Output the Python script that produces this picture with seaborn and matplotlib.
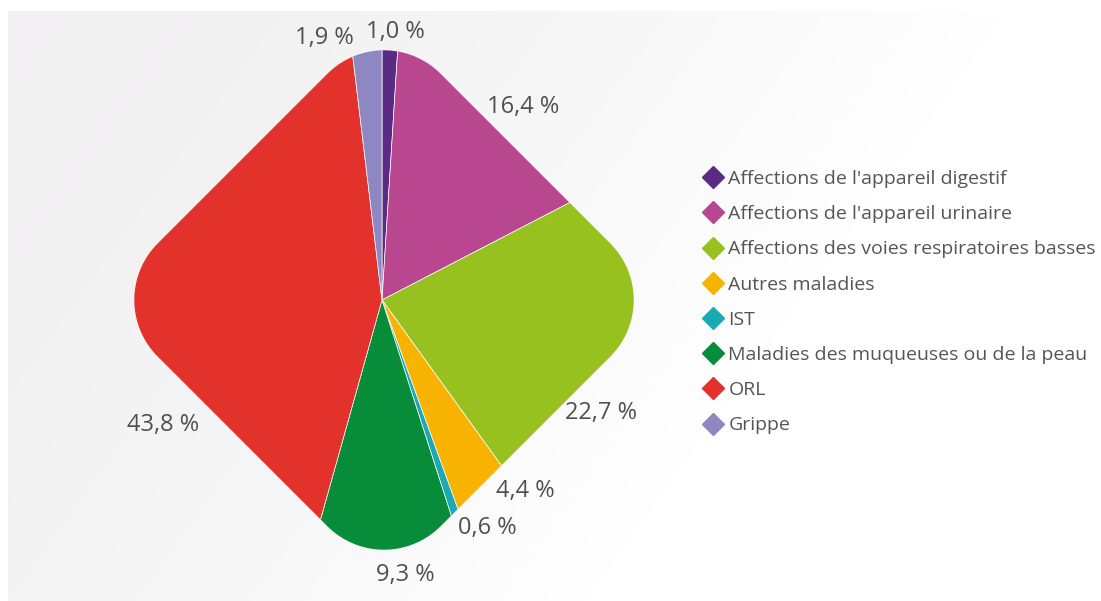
import numpy as np
import matplotlib
matplotlib.use("Agg")
import matplotlib.pyplot as plt
import seaborn as sns
from matplotlib.path import Path
from matplotlib.patches import PathPatch
from matplotlib.lines import Line2D

# ---------------- data ----------------
categories = [
    "Affections de l'appareil digestif",
    "Affections de l'appareil urinaire",
    "Affections des voies respiratoires basses",
    "Autres maladies",
    "IST",
    "Maladies des muqueuses ou de la peau",
    "ORL",
    "Grippe",
]
values = [1.0, 16.4, 22.7, 4.4, 0.6, 9.3, 43.8, 1.9]
value_labels = ["1,0 %", "16,4 %", "22,7 %", "4,4 %", "0,6 %", "9,3 %", "43,8 %", "1,9 %"]
colors = ["#5b2a84", "#b9478f", "#96c11f", "#f8b300", "#1ba9b6",
          "#078c3a", "#e3322b", "#8e87c2"]

# ---------------- layout (pixels) ----------------
W, H = 1101, 601
PIE_CX, PIE_CY = 382, 300          # slice convergence point (from top)
SHAPE_CX, SHAPE_CY = 384, 300      # rounded-diamond centre
HALF_SIDE, CORNER_R = 200, 80
label_pos = [(395, 32), (523, 107), (601, 413), (525, 491),
             (487, 528), (405, 575), (163, 425), (324, 38)]

sns.set_theme(style="white")
plt.rcParams["font.family"] = ["Open Sans", "DejaVu Sans"]

fig = plt.figure(figsize=(W / 100, H / 100), dpi=100)
fig.patch.set_facecolor("white")
ax = fig.add_axes([0, 0, 1, 1])

# soft grey-to-white background panel
yy, xx = np.mgrid[0:H - 11, 0:W - 8]
t = np.clip(xx / 1000 + yy / 1400, 0, 1) ** 1.5
lvl = (241 + 14 * t) / 255
bg = np.dstack([lvl, lvl * 0.995 + 0.005 * t, lvl, np.ones_like(lvl)])
ax.imshow(bg, extent=(8, W, 0, H - 11), origin="upper", zorder=0,
          interpolation="bilinear", aspect="auto")

# pie
wedges, _ = ax.pie(values, colors=colors, startangle=90, counterclock=False,
                   center=(PIE_CX, H - PIE_CY), radius=330, frame=True,
                   wedgeprops=dict(edgecolor="white", linewidth=0.5))

# rounded-diamond clip path
verts = []
d = (HALF_SIDE - CORNER_R) * np.sqrt(2)
for phi in [0, 90, 180, 270]:
    p = np.deg2rad(phi)
    cx, cy = SHAPE_CX + d * np.cos(p), (H - SHAPE_CY) + d * np.sin(p)
    a = np.deg2rad(np.linspace(phi - 45, phi + 45, 40))
    verts += list(zip(cx + CORNER_R * np.cos(a), cy + CORNER_R * np.sin(a)))
verts.append(verts[0])
clip = PathPatch(Path(verts, closed=True), transform=ax.transData,
                 facecolor="none", edgecolor="none")
ax.add_patch(clip)
for w in wedges:
    w.set_clip_on(True)
    w.set_clip_path(clip)
    w.set_zorder(2)

# percentage labels
for txt, (px, py) in zip(value_labels, label_pos):
    ax.text(px, H - py, txt, ha="center", va="center", fontsize=17,
            color="#505050", zorder=3)

# legend
handles = [Line2D([], [], marker="D", linestyle="none", markersize=11.5,
                  markerfacecolor=c, markeredgecolor=c) for c in colors]
leg = ax.legend(handles, categories, loc="upper left",
                bbox_to_anchor=(703 / W, 1 - 170 / H), bbox_transform=fig.transFigure,
                frameon=False, fontsize=14, handlelength=1.0, handletextpad=0.3,
                labelspacing=0.885, borderpad=0, borderaxespad=0)
for t_ in leg.get_texts():
    t_.set_color("#555555")

ax.set_xlim(0, W)
ax.set_ylim(0, H)
ax.set_aspect("auto")
ax.axis("off")

fig.savefig("out.png", dpi=100, facecolor="white")
